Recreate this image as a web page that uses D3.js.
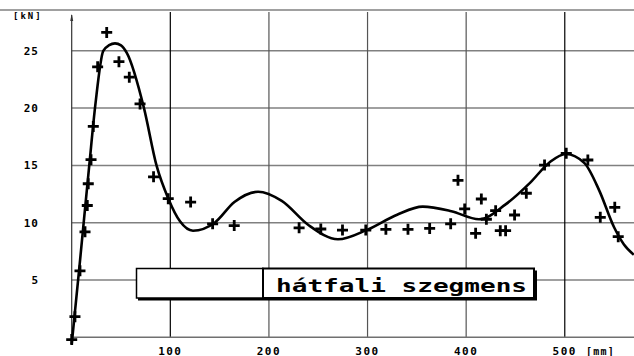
<!DOCTYPE html>
<html>
<head>
<meta charset="utf-8">
<script src="https://cdn.jsdelivr.net/npm/d3@7"></script>
<style>
  body { margin: 0; background: #fff; }
  text { font-family: "DejaVu Sans Mono", monospace; font-weight: bold; font-style: normal; fill: #000; }
</style>
</head>
<body>
<script>
// measured points (x in mm, y in kN)
const pointX = [0, 3.3, 8.4, 13.5, 15.8, 16.8, 19.6, 21.9, 26.3, 35.5, 47.9, 58.4, 69.3, 83, 97.9,
  120.6, 142.9, 164.8, 230.6, 252.6, 274.6, 298.2, 318.6, 341, 363, 384.3, 391.7, 398.5, 409.6,
  415.4, 420.5, 429.9, 434.6, 440, 449.1, 461, 479.5, 501.5, 523.4, 536, 550.7, 554.2];
const pointY = [-0.2, 1.8, 5.8, 9.2, 11.5, 13.4, 15.5, 18.4, 23.6, 26.6, 24.05, 22.7, 20.36, 14.0, 12.1,
  11.8, 9.9, 9.75, 9.55, 9.45, 9.36, 9.36, 9.42, 9.42, 9.5, 9.9, 13.7, 11.2, 9.07,
  12.07, 10.3, 11.05, 9.3, 9.3, 10.67, 12.57, 15.03, 16.05, 15.47, 10.47, 11.34, 8.78];

// fitted curve
const curveX = [0, 8, 17.8, 24, 32, 38, 43.9, 50, 56, 73.3, 86, 98, 110, 123, 145, 165, 189, 213,
  240, 270, 300, 330, 356, 385, 413, 440, 465, 485, 501, 520, 535, 550, 560, 570];
const curveY = [-0.6, 6.3, 15, 20.3, 25, 25.49, 25.65, 25.48, 24.8, 20, 15, 12.1, 10.1, 9.3, 10.0, 11.8, 12.7, 11.9,
  9.8, 8.55, 9.4, 10.7, 11.4, 11.0, 10.3, 11.6, 13.5, 15.3, 16.0, 15.2, 12.8, 9.6, 8.1, 7.2];

const xTicks = [100, 200, 300, 400, 500];
const yTicks = [5, 10, 15, 20, 25];
const legendLabel = 'hátfali szegmens';

const WIDTH = 634;
const HEIGHT = 356;

const svg = d3.select('body')
  .append('svg')
  .attr('width', WIDTH)
  .attr('height', HEIGHT);

let x = d3.scaleLinear().domain([0, 570.2]).range([71.7, 634]);
let y = d3.scaleLinear().domain([0, 25]).range([337.3, 50.8]);

// top frame line
svg.append('line')
  .attr('x1', 0).attr('x2', WIDTH)
  .attr('y1', 10).attr('y2', 10)
  .attr('stroke', '#808080').attr('stroke-width', 1.5);

// horizontal grid
svg.selectAll('.hgrid')
  .data(yTicks)
  .enter()
  .append('line')
  .attr('x1', x(0)).attr('x2', WIDTH)
  .attr('y1', function(d) { return y(d); })
  .attr('y2', function(d) { return y(d); })
  .attr('stroke', '#808080')
  .attr('stroke-width', 1.5);

// vertical grid
svg.selectAll('.vgrid')
  .data(xTicks)
  .enter()
  .append('line')
  .attr('x1', function(d) { return x(d); })
  .attr('x2', function(d) { return x(d); })
  .attr('y1', 12).attr('y2', y(0))
  .attr('stroke', function(d) { return (d == 100 || d == 500) ? '#000' : '#555'; })
  .attr('stroke-width', 1.2);

// bottom axis
svg.append('line')
  .attr('x1', x(0)).attr('x2', WIDTH)
  .attr('y1', y(0)).attr('y2', y(0))
  .attr('stroke', '#707070').attr('stroke-width', 1.5);

// y axis with small arrow
svg.append('line')
  .attr('x1', x(0)).attr('x2', x(0))
  .attr('y1', 15).attr('y2', y(0) + 4)
  .attr('stroke', '#333').attr('stroke-width', 1.2);
svg.append('path')
  .attr('d', 'M' + (x(0) - 1.5) + ',21 L' + x(0) + ',14 L' + (x(0) + 1.5) + ',21 Z')
  .attr('fill', '#333');

// tick labels
svg.selectAll('.ylab')
  .data(yTicks)
  .enter()
  .append('text')
  .attr('x', 39)
  .attr('y', function(d) { return y(d) + 4; })
  .attr('text-anchor', 'end')
  .attr('font-size', 11)
  .attr('letter-spacing', 1)
  .text(function(d) { return d; });

svg.append('text')
  .attr('x', 13).attr('y', 18.5)
  .attr('font-size', 9)
  .attr('letter-spacing', 2)
  .text('[kN]');

svg.selectAll('.xlab')
  .data(xTicks)
  .enter()
  .append('text')
  .attr('x', function(d) { return x(d); })
  .attr('y', 354.5)
  .attr('text-anchor', 'middle')
  .attr('font-size', 11)
  .attr('letter-spacing', 1.5)
  .text(function(d) { return d; });

svg.append('text')
  .attr('x', 586).attr('y', 354.5)
  .attr('font-size', 10)
  .attr('letter-spacing', 1.2)
  .text('[mm]');

// fitted curve
let line = d3.line()
  .x(function(d) { return x(d[0]); })
  .y(function(d) { return y(d[1]); })
  .curve(d3.curveMonotoneX);

svg.append('path')
  .datum(d3.zip(curveX, curveY))
  .attr('d', line)
  .attr('fill', 'none')
  .attr('stroke', '#000')
  .attr('stroke-width', 2.6);

// measured points as crosses
svg.selectAll('.pt')
  .data(d3.zip(pointX, pointY))
  .enter()
  .append('path')
  .attr('d', 'M-5.5,0H5.5M0,-5.5V5.5')
  .attr('transform', function(d) { return 'translate(' + [x(d[0]), y(d[1])] + ')'; })
  .attr('stroke', '#000')
  .attr('stroke-width', 2.8)
  .attr('fill', 'none');

// legend
const legend = svg.append('g');
legend.append('rect')
  .attr('x', 138).attr('y', 270.5)
  .attr('width', 399).attr('height', 30)
  .attr('fill', '#000');
legend.append('rect')
  .attr('x', 136.5).attr('y', 268.5)
  .attr('width', 126.5).attr('height', 29.5)
  .attr('fill', '#fff').attr('stroke', '#000').attr('stroke-width', 1.5);
legend.append('rect')
  .attr('x', 263).attr('y', 268.5)
  .attr('width', 271).attr('height', 29.5)
  .attr('fill', '#fff').attr('stroke', '#000').attr('stroke-width', 2);
legend.append('text')
  .attr('x', 276).attr('y', 291.5)
  .attr('font-size', 18)
  .attr('textLength', 251)
  .attr('lengthAdjust', 'spacingAndGlyphs')
  .text(legendLabel);
</script>
</body>
</html>
